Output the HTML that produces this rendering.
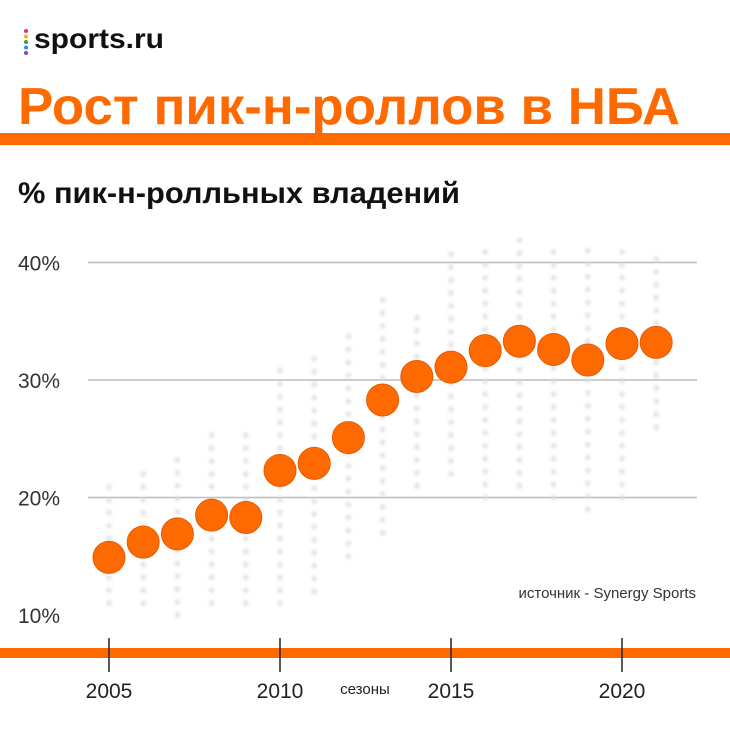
<!DOCTYPE html>
<html><head><meta charset="utf-8"><style>
html,body{margin:0;padding:0;background:#fff;}
svg{display:block;font-family:"Liberation Sans","Noto Sans CJK SC",sans-serif;}
</style></head><body>
<svg id="c" width="730" height="730" viewBox="0 0 730 730">
  <defs><filter id="blur"><feGaussianBlur stdDeviation="1.5"/></filter></defs>
  <g>
    <circle cx="26" cy="31" r="2" fill="#e6336b"/>
    <circle cx="26" cy="36.5" r="2" fill="#f5b800"/>
    <circle cx="26" cy="42" r="2" fill="#2aa84a"/>
    <circle cx="26" cy="47.5" r="2" fill="#1e9be0"/>
    <circle cx="26" cy="53" r="2" fill="#8a4aa0"/>
    <text x="34" y="48" font-size="28" font-weight="bold" fill="#111" textLength="130" lengthAdjust="spacingAndGlyphs">sports.ru</text>
  </g>
  <text x="18" y="124" font-size="52" font-weight="bold" fill="#ff6a00" textLength="662" lengthAdjust="spacingAndGlyphs">Рост пик-н-роллов в НБА</text>
  <rect x="0" y="133" width="730" height="12" fill="#ff6a00"/>
  <text x="18" y="203" font-size="30" font-weight="bold" fill="#111" textLength="442" lengthAdjust="spacingAndGlyphs">% пик-н-ролльных владений</text>
  <g id="grid"></g>
  <g id="teams" filter="url(#blur)"></g>
  <g id="dots"></g>
  <text x="696" y="598" font-size="15" fill="#333" text-anchor="end">источник - Synergy Sports</text>
  <rect x="0" y="648" width="730" height="10" fill="#ff6a00"/>
  <g id="xaxis"></g>
  <text x="365" y="694" font-size="15" fill="#222" text-anchor="middle">сезоны</text>
</svg>
<script>
const seasons=[2005,2006,2007,2008,2009,2010,2011,2012,2013,2014,2015,2016,2017,2018,2019,2020,2021];
const leagueAvg=[14.9,16.2,16.9,18.5,18.3,22.3,22.9,25.1,28.3,30.3,31.1,32.5,33.3,32.6,31.7,33.1,33.2];
const teamLow=[11,11,10,11,11,11,12,15,17,21,22,20,21,20,19,20,26];
const teamHigh=[22,23,24,26,26,31,32,34,37,36,41,41,42,41,42,42,41];
const yTicks=[10,20,30,40];
const yTickLabels=["10%","20%","30%","40%"];
const xTicks=[2005,2010,2015,2020];
const xTickLabels=["2005","2010","2015","2020"];
const NS="http://www.w3.org/2000/svg";
const xS=v=>109+(v-2005)*34.2;
const yS=v=>615-(v-10)*11.75;
function mk(t,a,p){const e=document.createElementNS(NS,t);for(const k in a)e.setAttribute(k,a[k]);p.appendChild(e);return e;}
const grid=document.getElementById('grid'),teams=document.getElementById('teams'),dots=document.getElementById('dots'),xa=document.getElementById('xaxis');
yTicks.forEach((t,i)=>{
  if(t>10){const l=mk('line',{x1:88,x2:697,y1:yS(t),y2:yS(t),stroke:'#bbb','stroke-width':1.5},grid);
  
  }
  const tx=mk('text',{x:18,y:yS(t)+8,'font-size':21,fill:'#333'},grid);tx.textContent=yTickLabels[i];
  
  
});
seasons.forEach((s,i)=>{
  const lo=teamLow[i],hi=teamHigh[i];
  for(let v=lo;v<=hi;v+=1.1){
    const c=mk('circle',{cx:xS(s),cy:yS(v),r:2.6,fill:'#dcdcdc'},teams);
    
    
  }
});
seasons.forEach((s,i)=>{
  const c=mk('circle',{cx:xS(s),cy:yS(leagueAvg[i]),r:16,fill:'#ff6a00',stroke:'#e85a00','stroke-width':1},dots);
  
  
});
xTicks.forEach((t,i)=>{
  const l=mk('line',{x1:xS(t),x2:xS(t),y1:638,y2:672,stroke:'#222','stroke-width':1.5},xa);
  
  
  const tx=mk('text',{x:xS(t),y:698,'font-size':21,fill:'#222','text-anchor':'middle'},xa);tx.textContent=xTickLabels[i];
  
  
});
</script>
</body></html>
